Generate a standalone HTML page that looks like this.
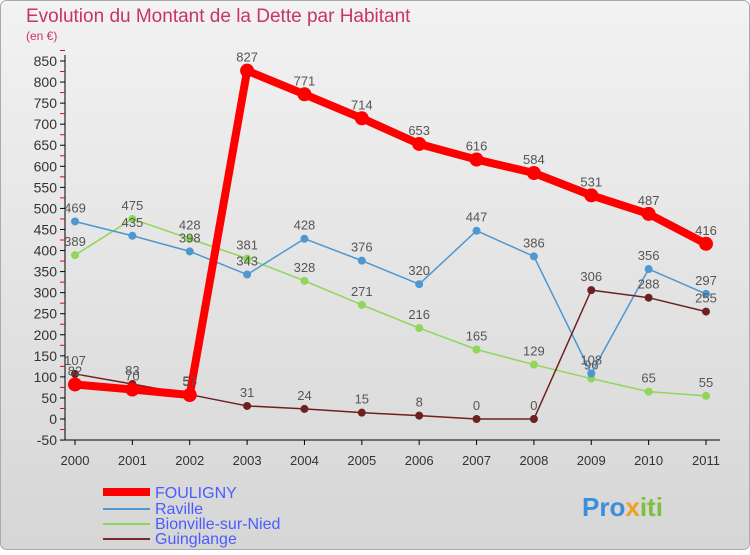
<!DOCTYPE html>
<html><head><meta charset="utf-8"><style>
body{margin:0;background:#fff}
svg text{font-family:"Liberation Sans","DejaVu Sans",sans-serif}
</style></head><body>
<svg id="c" width="750" height="550" xmlns="http://www.w3.org/2000/svg">
<defs><linearGradient id="bg" x1="0" y1="0" x2="0" y2="1"><stop offset="0" stop-color="#f2f2f2"/><stop offset="1" stop-color="#d6d6d6"/></linearGradient></defs>
<rect x="0.5" y="0.5" width="749" height="549" rx="6" fill="url(#bg)" stroke="#aaa"/>
<text x="26" y="22" font-size="19" fill="#c8336b">Evolution du Montant de la Dette par Habitant</text>
<text x="26" y="40" font-size="12" fill="#c8336b">(en €)</text>
<g id="axes"></g><g id="series"></g>
<g>
<line x1="103" y1="492" x2="150" y2="492" stroke="#f00" stroke-width="8"/><text x="155" y="498" font-size="16" fill="#4a5cff">FOULIGNY</text>
<line x1="103" y1="509" x2="150" y2="509" stroke="#4f97d0" stroke-width="2"/><text x="155" y="514" font-size="16" fill="#4a5cff">Raville</text>
<line x1="103" y1="524" x2="150" y2="524" stroke="#8fd65a" stroke-width="2"/><text x="155" y="529" font-size="16" fill="#4a5cff">Bionville-sur-Nied</text>
<line x1="103" y1="539" x2="150" y2="539" stroke="#7a2a2a" stroke-width="2"/><text x="155" y="544" font-size="16" fill="#4a5cff">Guinglange</text>
</g>
<text x="582" y="516" font-size="26" font-weight="bold" fill="#3a8fd8">Pro<tspan fill="#f0a020">x</tspan><tspan fill="#7cc040">iti</tspan></text>
</svg>
<script>
const years=["2000","2001","2002","2003","2004","2005","2006","2007","2008","2009","2010","2011"];
const yTicks=[-50,0,50,100,150,200,250,300,350,400,450,500,550,600,650,700,750,800,850];
const fouligny=[82,70,57,827,771,714,653,616,584,531,487,416];
const raville=[469,435,398,343,428,376,320,447,386,108,356,297];
const bionville=[389,475,428,381,328,271,216,165,129,96,65,55];
const guinglange=[107,83,58,31,24,15,8,0,0,306,288,255];
const NS="http://www.w3.org/2000/svg";
const X=i=>75+i*(706-75)/11;
const Y=v=>419-v*(419-61)/850;
function mk(t,a,p){const e=document.createElementNS(NS,t);for(const k in a)e.setAttribute(k,a[k]);p.appendChild(e);return e;}
const ax=document.getElementById('axes'),se=document.getElementById('series');
mk('line',{x1:65,y1:55,x2:65,y2:440,stroke:'#000'},ax);
mk('line',{x1:65,y1:440,x2:720,y2:440,stroke:'#000'},ax);
yTicks.forEach(v=>{const y=Y(v);
mk('line',{x1:60,y1:y,x2:65,y2:y,stroke:'#000'},ax);
mk('line',{x1:60,y1:Y(v+25),x2:65,y2:Y(v+25),stroke:'#e00'},ax);
const t=mk('text',{x:57,y:y+5,'font-size':14,'text-anchor':'end',fill:'#333'},ax);t.textContent=v;

});
years.forEach((yr,i)=>{mk('line',{x1:X(i),y1:440,x2:X(i),y2:445,stroke:'#000'},ax);
const t=mk('text',{x:X(i),y:465,'font-size':13,'text-anchor':'middle',fill:'#333'},ax);t.textContent=yr;

});
function draw(name,data,color,w,r){const g=mk('g',{},se);


mk('polyline',{points:data.map((v,i)=>X(i)+','+Y(v)).join(' '),fill:'none',stroke:color,'stroke-width':w,'stroke-linejoin':'round'},g);
data.forEach((v,i)=>{const c=mk('circle',{cx:X(i),cy:Y(v),r:r,fill:color},g);


const t=mk('text',{x:X(i),y:Y(v)-9,'font-size':13,'text-anchor':'middle',fill:'#555'},g);t.textContent=v;

});}
draw('series-bionville',bionville,'#8fd65a',1.5,4);
draw('series-raville',raville,'#4f97d0',1.5,4);
draw('series-guinglange',guinglange,'#6e2020',1.5,4);
draw('series-fouligny',fouligny,'#f00',8,7);
</script>
</body></html>
